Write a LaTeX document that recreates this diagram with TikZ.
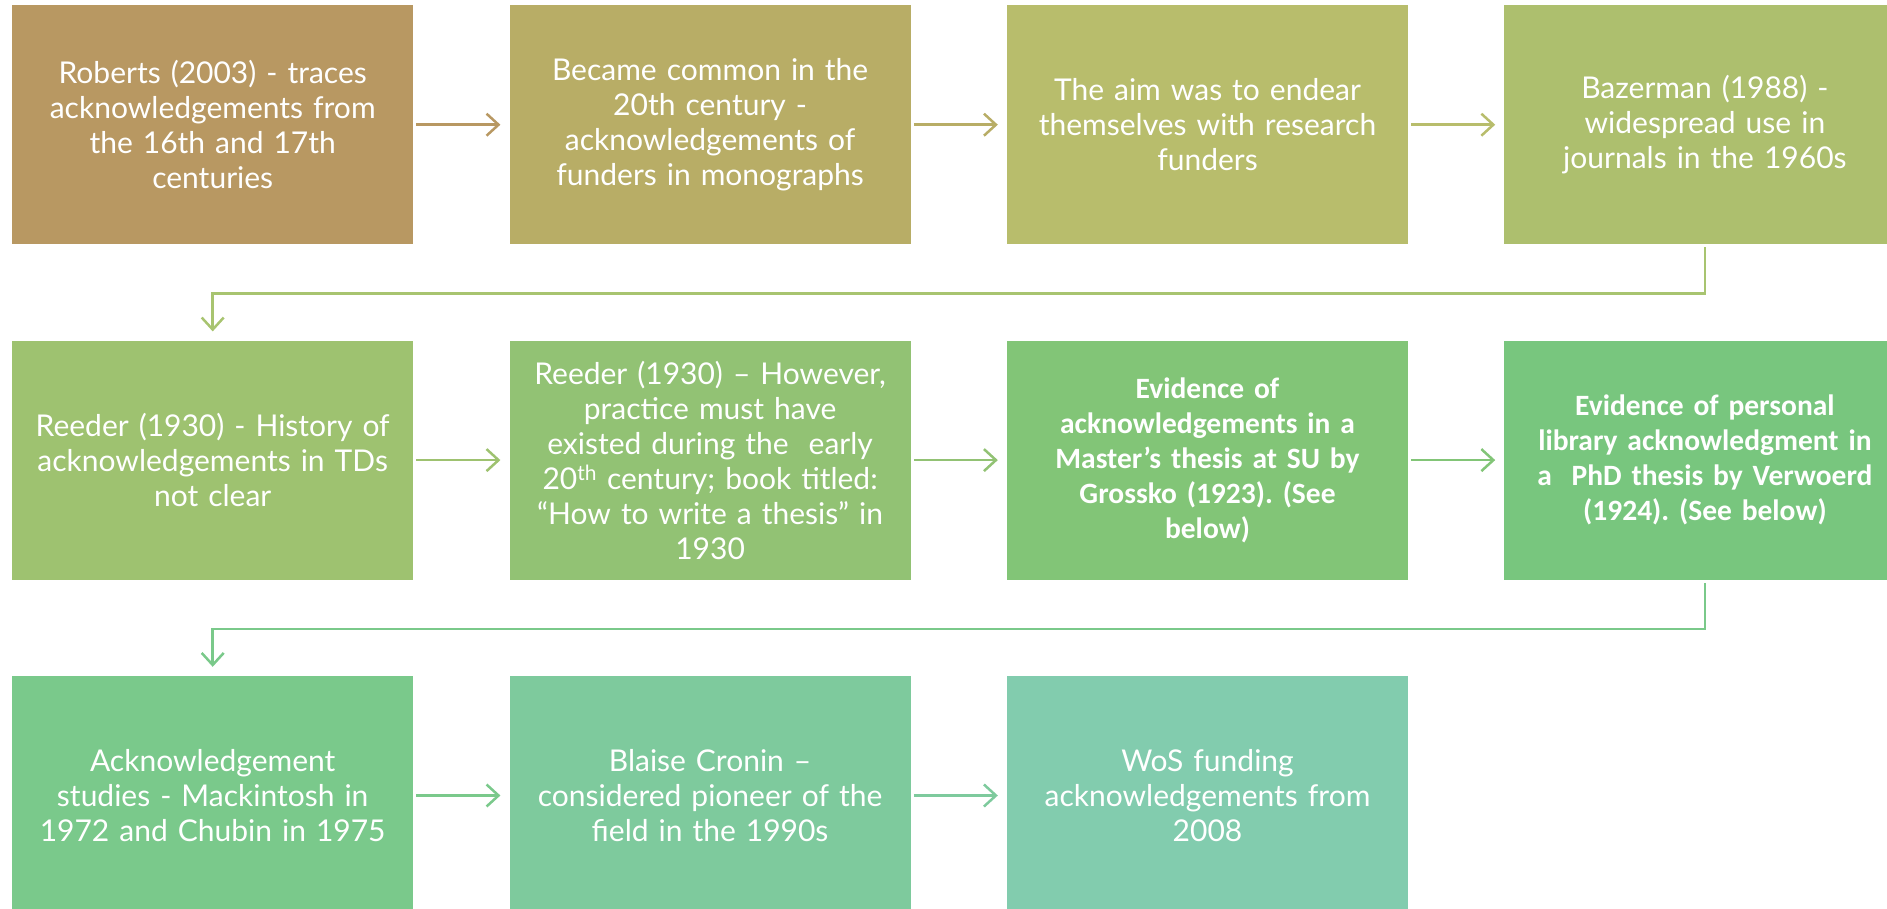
\documentclass[tikz,border=0pt]{standalone}
\usepackage{fontspec}
\setmainfont{Lato}
\newfontfamily\boldfont{Carlito}
\usetikzlibrary{arrows.meta,positioning}
\frenchspacing

\definecolor{tanA}{HTML}{B89862}
\definecolor{tanB}{HTML}{B8AD66}
\definecolor{oliveA}{HTML}{B8BD6C}
\definecolor{oliveB}{HTML}{ADBF6E}
\definecolor{greenA}{HTML}{9EC270}
\definecolor{greenB}{HTML}{92C274}
\definecolor{greenC}{HTML}{82C577}
\definecolor{greenD}{HTML}{78C67E}
\definecolor{mintA}{HTML}{7AC98B}
\definecolor{mintB}{HTML}{7ECA9D}
\definecolor{mintC}{HTML}{82CCAE}
\definecolor{linkA}{HTML}{A8C470}
\definecolor{linkB}{HTML}{7AC98A}

\begin{document}
\begin{tikzpicture}[x=1pt,y=-1pt]
		\tikzstyle{block} = [rectangle, draw=none, text=white, text width=395pt, align=center, minimum width=401pt, minimum height=239pt, inner sep=0pt, font=\fontsize{30}{35}\selectfont]
		\tikzstyle{bold} = [font=\boldfont\bfseries\fontsize{29.5}{35}\selectfont]
		\tikzstyle{arrow} = [draw, line width=2.5pt, shorten <=3pt, shorten >=9pt, -{Straight Barb[length=12pt,width=22pt,line width=2.5pt]}]
		\useasboundingbox (0,0) rectangle (1887,909);
		\node [block, fill=tanA, anchor=north west] (roberts) at (12,5) {Roberts (2003) - traces\\acknowledgements from\\the 16th and 17th\\centuries};
		\node [block, fill=tanB, right=96pt of roberts] (common) {Became common in the\\20th century -\\acknowledgements of\\funders in monographs};
		\node [block, fill=oliveA, right=96pt of common] (endear) {The aim was to endear\\themselves with research\\funders};
		\node [block, fill=oliveB, right=96pt of endear] (bazerman) {Bazerman (1988) -\\widespread use in\\journals in the 1960s};
		\node [block, fill=greenA, below=96pt of roberts] (reeder) {Reeder (1930) - History of\\acknowledgements in TDs\\not clear};
		\node [block, fill=greenB, right=96pt of reeder] (practice) {Reeder (1930) -- However,\\practice must have\\existed during the\ \ early\\20\textsuperscript{th} century; book titled:\\“How to write a thesis” in\\1930};
		\node [block, bold, fill=greenC, right=96pt of practice] (grossko) {Evidence of\\acknowledgements in a\\Master’s thesis at SU by\\Grossko (1923). (See\\below)};
		\node [block, bold, fill=greenD, right=96pt of grossko] (verwoerd) {Evidence of personal\\library acknowledgment in\\a\ \ PhD thesis by Verwoerd\\(1924). (See below)};
		\node [block, fill=mintA, below=96pt of reeder] (studies) {Acknowledgement\\studies - Mackintosh in\\1972 and Chubin in 1975};
		\node [block, fill=mintB, right=96pt of studies] (cronin) {Blaise Cronin --\\considered pioneer of the\\field in the 1990s};
		\node [block, fill=mintC, right=96pt of cronin] (wos) {WoS funding\\acknowledgements from\\2008};

		\path[arrow, tanA] (roberts) -- (common);
		\path[arrow, tanB] (common) -- (endear);
		\path[arrow, oliveA] (endear) -- (bazerman);
		\path[arrow, linkA] (bazerman.south) -- ++(0,49) -| (reeder.north);
		\path[arrow, greenA] (reeder) -- (practice);
		\path[arrow, greenB] (practice) -- (grossko);
		\path[arrow, greenC] (grossko) -- (verwoerd);
		\path[arrow, linkB] (verwoerd.south) -- ++(0,49) -| (studies.north);
		\path[arrow, mintA] (studies) -- (cronin);
		\path[arrow, mintB] (cronin) -- (wos);
	\end{tikzpicture}
\end{document}
